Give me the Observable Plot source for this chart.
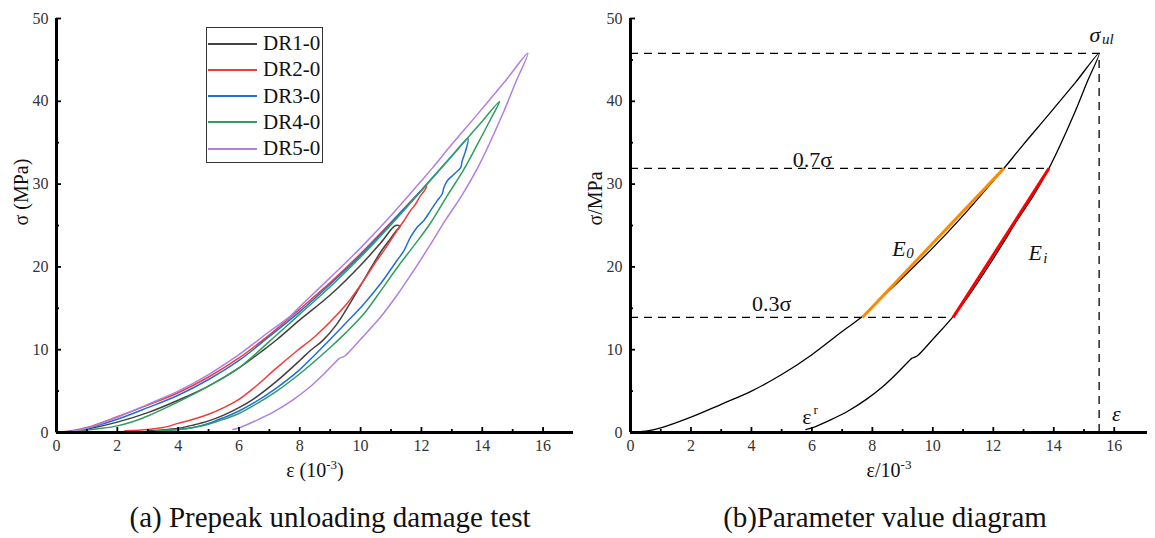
<!DOCTYPE html>
<html><head><meta charset="utf-8">
<script src="https://cdn.jsdelivr.net/npm/d3@7"></script>
<script src="https://cdn.jsdelivr.net/npm/@observablehq/plot@0.6"></script>
<style>
body{margin:0;background:#fff;font-family:"Liberation Serif","Times New Roman",serif;}
#wrap{position:relative;width:1155px;height:538px;overflow:hidden;}
#left{position:absolute;left:0;top:0;}
#right{position:absolute;left:577px;top:0;}
.cap{position:absolute;top:499px;font-size:29px;line-height:36px;color:#111;white-space:nowrap;transform:translateX(-50%);}
#legend{position:absolute;left:206px;top:27px;width:117px;height:136px;border:1.5px solid #333;box-sizing:border-box;background:#fff;}
.row{position:absolute;left:1px;height:26px;display:flex;align-items:center;}
.sw{width:49px;height:0;border-top:2px solid;margin-right:6px;}
.lt{font-size:21px;color:#111;}
svg text{font-family:"Liberation Serif","Times New Roman",serif;}
</style></head>
<body>
<div id="wrap">
  <div id="left"></div>
  <div id="right"></div>
  <div id="legend"></div>
  <div class="cap" id="capA" style="left:330px"></div>
  <div class="cap" id="capB" style="left:885px"></div>
</div>
<script>
// ---- data ----
const series = ["DR1-0","DR2-0","DR3-0","DR4-0","DR5-0"];
const colors = ["#404040","#f23a3a","#1f6fd8","#2e9e5e","#b07fe2"];

const dr1Strain = [0,0.5,1,2,3,4,5,6,6.82,7.24,8,9,10,10.66,11.15,11.3,11.2,11.0,10.66,10.2,9.7,9.2,8.75,8.35,8.0,7.24,6.5,6,5.5,5,4.5,4,3.5,3];
const dr1Stress = [0,0.1,0.4,1.25,2.4,3.9,5.6,7.8,10.0,11.2,13.6,16.6,20.2,22.9,25.0,24.9,24.5,23.5,21.8,19.0,15.9,13.0,11.1,9.9,8.7,6.2,4.1,3.0,2.1,1.4,0.9,0.5,0.3,0.2];

const dr2Strain = [0,0.5,1,2,3,4,5,6,7,8,9,10,11,11.6,12.17,12.1,11.97,11.81,11.64,11.43,11.2,10.99,10.77,10.5,10.11,9.56,9.01,8.5,7.92,7.24,6.5,6,5.5,5,4.5,4,3.5,3,2.25];
const dr2Stress = [0,0.2,0.6,1.9,3.3,4.8,6.7,9.0,11.8,14.9,18.1,21.6,25.4,27.7,29.8,29.2,28.6,27.6,26.8,25.6,24.4,23.2,22.0,20.6,18.4,15.6,13.4,11.6,9.9,7.8,5.4,4.0,3.0,2.2,1.6,1.1,0.6,0.35,0.2];

const dr3Strain = [0,0.5,1,2,3,4,5,6,7,8,9,10,11,12,13,13.53,13.46,13.34,13.29,13.07,12.85,12.74,12.68,12.52,12.3,12.08,11.86,11.64,11.43,11.2,10.66,10.1,9.56,9.01,8.5,8,7.24,6.5,6,5.5,5,4.5,4,3.2];
const dr3Stress = [0,0.15,0.5,1.6,3.0,4.5,6.4,8.7,11.6,14.6,17.9,21.4,25.3,29.3,33.4,35.5,34.1,32.8,32.0,31.2,30.4,29.6,28.8,28.0,26.8,25.6,24.8,23.6,22.0,20.8,18.0,15.5,13.4,11.3,9.4,7.6,5.4,3.6,2.6,1.8,1.1,0.6,0.35,0.2];

const dr4Strain = [0,0.5,1,1.5,2,2.5,3,4,5,6,7,8,9,10,11,12,13,14,14.57,14.27,13.84,13.4,12.85,12.3,11.76,11.2,10.66,10.1,9.5,9.01,8,7.24,6.5,6,5.5,5,4.5,4,3.3];
const dr4Stress = [0,0.1,0.3,0.5,0.8,1.3,2.0,3.7,5.6,7.8,11.0,14.3,17.6,21.2,25.1,29.2,33.4,37.6,40.0,37.8,34.8,31.8,28.6,25.3,22.6,19.9,17.1,14.3,12.0,10.3,7.1,5.0,3.3,2.3,1.6,1.0,0.6,0.35,0.2];

const dr5Strain = [0,0.5,1,2,3,4,5,6,7,7.67,8,9,10,11,12,12.35,13,13.81,14.7,15.5,15.1,14.7,14.2,13.84,13.34,12.8,12.26,11.7,11.2,10.67,10.06,9.5,9.4,9.3,9.2,8.8,8.3,7.8,7.2,6.6,6.0,5.8];
const dr5Stress = [0,0.15,0.55,1.85,3.4,5.0,7.0,9.4,12.2,14.0,15.2,18.7,22.3,26.2,30.4,31.9,34.8,38.3,42.2,45.8,42.3,38.7,34.6,31.9,28.7,25.7,22.5,19.3,16.6,14.0,11.5,9.3,9.1,8.95,8.6,7.1,5.4,4.0,2.6,1.5,0.55,0.35];

const strains = [dr1Strain, dr2Strain, dr3Strain, dr4Strain, dr5Strain];
const stresses = [dr1Stress, dr2Stress, dr3Stress, dr4Stress, dr5Stress];

const xTicks = [0,2,4,6,8,10,12,14,16];
const xMinor = [1,3,5,7,9,11,13,15];
const yTicks = [0,10,20,30,40,50];
const yMinor = [5,15,25,35,45];

// parameter diagram values
const peakStrain = 15.5;
const sigmaUl = 45.8;
const dashStress = [45.8, 31.9, 13.9];
const dashStrainEnd = [15.5, 13.84, 10.67];
const e0Strain = [7.67, 12.35];
const eiStrain = [10.67, 13.84];
const chordStress = [13.9, 31.9];
const levelLabels = ["0.7σ", "0.3σ"];
const levelLabelX = [6.02, 4.67];
const levelLabelY = [32.9, 15.5];

const captionA = "(a) Prepeak unloading damage test";
const captionB = "(b)Parameter value diagram";

// ---- helpers ----
const serif = "'Liberation Serif', 'Times New Roman', serif";
function axes(xLabel, yLabel){
  return [
    Plot.axisX({ticks:xTicks, tickSize:0, tickPadding:7, fontSize:16, fontFamily:serif, fill:"#333", label:null}),
    Plot.axisX({ticks:xTicks, tickSize:5, dy:-5, tickFormat:()=>"", label:null, strokeWidth:1.8}),
    Plot.axisX({ticks:xMinor, tickSize:3, dy:-3, tickFormat:()=>"", label:null, strokeWidth:1.8}),
    Plot.axisY({ticks:yTicks, tickSize:0, tickPadding:8, fontSize:16, fontFamily:serif, fill:"#333", label:null}),
    Plot.axisY({ticks:yTicks, tickSize:5, dx:5, tickFormat:()=>"", label:null, strokeWidth:1.8}),
    Plot.axisY({ticks:yMinor, tickSize:3, dx:3, tickFormat:()=>"", label:null, strokeWidth:1.8}),
    Plot.ruleY([0], {strokeWidth:3, stroke:"#000"}),
    Plot.ruleX([0], {strokeWidth:3, stroke:"#000"}),
    Plot.text([xLabel], {text:d=>d, frameAnchor:"bottom", dy:44, fontSize:20, fontFamily:serif, fill:"#111"}),
    Plot.text([yLabel], {text:d=>d, frameAnchor:"left", dx:-35, rotate:-90, fontSize:20, fontFamily:serif, fill:"#111"})
  ];
}
const pts = i => strains[i].map((x,j)=>({x, y:stresses[i][j]}));
const T = (o) => Object.assign({fontFamily:serif, fill:"#111", fontSize:22}, o);

// ---- left plot ----
const left = Plot.plot({
  width:577, height:492,
  marginLeft:56, marginRight:4, marginTop:18, marginBottom:60,
  x:{domain:[0,17]}, y:{domain:[0,50]},
  style:{fontFamily:serif, background:"#fff"},
  marks:[
    ...series.map((s,i)=>Plot.line(pts(i), {x:"x", y:"y", stroke:colors[i], strokeWidth:1.5, curve:"catmull-rom"})),
    ...axes("ε (10-3)", "σ (MPa)")
  ]
});
document.getElementById("left").append(left);

// ---- right plot ----
const right = Plot.plot({
  width:578, height:492,
  marginLeft:53, marginRight:8, marginTop:18, marginBottom:60,
  x:{domain:[0,17.1]}, y:{domain:[0,50]},
  style:{fontFamily:serif, background:"#fff"},
  marks:[
    Plot.ruleY(dashStress, {y:d=>d, x1:0, x2:(d,i)=>dashStrainEnd[i], stroke:"#000", strokeWidth:1.3, strokeDasharray:"8,6"}),
    Plot.ruleX([peakStrain], {x:d=>d, y1:0, y2:sigmaUl, stroke:"#000", strokeWidth:1.3, strokeDasharray:"8,6"}),
    Plot.line(pts(4), {x:"x", y:"y", stroke:"#000", strokeWidth:1.3, curve:"catmull-rom"}),
    Plot.link([0], {x1:()=>e0Strain[0], y1:()=>chordStress[0], x2:()=>e0Strain[1], y2:()=>chordStress[1], stroke:"#ff8a00", strokeWidth:3}),
    Plot.link([0], {x1:()=>eiStrain[0], y1:()=>chordStress[0], x2:()=>eiStrain[1], y2:()=>chordStress[1], stroke:"#ff0000", strokeWidth:3}),
    Plot.text(levelLabels, T({text:d=>d, x:(d,i)=>levelLabelX[i], y:(d,i)=>levelLabelY[i]})),
    // E0
    Plot.text(["E"], T({text:d=>d, x:8.88, y:22.2, fontStyle:"italic"})),
    Plot.text(["0"], T({text:d=>d, x:8.88, y:22.2, dx:11, dy:5, fontSize:15, fontStyle:"italic"})),
    // Ei
    Plot.text(["E"], T({text:d=>d, x:13.39, y:21.7, fontStyle:"italic"})),
    Plot.text(["i"], T({text:d=>d, x:13.39, y:21.7, dx:10, dy:5, fontSize:15, fontStyle:"italic"})),
    // sigma_ul
    Plot.text(["σ"], T({text:d=>d, x:15.36, y:48.0, fontStyle:"italic"})),
    Plot.text(["ul"], T({text:d=>d, x:15.36, y:48.0, dx:13, dy:4, fontSize:15, fontStyle:"italic"})),
    // eps r
    Plot.text(["ε"], T({text:d=>d, x:5.83, y:1.9})),
    Plot.text(["r"], T({text:d=>d, x:5.83, y:1.9, dx:9, dy:-7, fontSize:13})),
    // eps
    Plot.text(["ε"], T({text:d=>d, x:16.07, y:2.3, fontStyle:"italic"})),
    ...axes("ε/10-3", "σ/MPa")
  ]
});
document.getElementById("right").append(right);

// superscript "-3" in the strain axis titles
for (const svg of [left, right]) {
  svg.querySelectorAll("text").forEach(t => {
    const s = t.textContent;
    const k = s.indexOf("10-3");
    if (k < 0) return;
    const before = s.slice(0, k + 2), after = s.slice(k + 4);
    t.textContent = "";
    const ns = "http://www.w3.org/2000/svg";
    const a = document.createElementNS(ns, "tspan"); a.textContent = before;
    const b = document.createElementNS(ns, "tspan"); b.textContent = "-3";
    b.setAttribute("dy", "-8"); b.setAttribute("font-size", "13");
    t.append(a, b);
    if (after) {
      const c = document.createElementNS(ns, "tspan"); c.textContent = after;
      c.setAttribute("dy", "8"); t.append(c);
    }
  });
}

// ---- legend ----
const lg = document.getElementById("legend");
series.forEach((s,i)=>{
  const r = document.createElement("div");
  r.className = "row";
  r.style.top = (2.7 + i*26.2) + "px";
  const sw = document.createElement("span"); sw.className="sw"; sw.style.borderTopColor = colors[i];
  const t = document.createElement("span"); t.className="lt"; t.textContent = s;
  r.append(sw, t); lg.append(r);
});
document.getElementById("capA").textContent = captionA;
document.getElementById("capB").textContent = captionB;
</script>
</body></html>
